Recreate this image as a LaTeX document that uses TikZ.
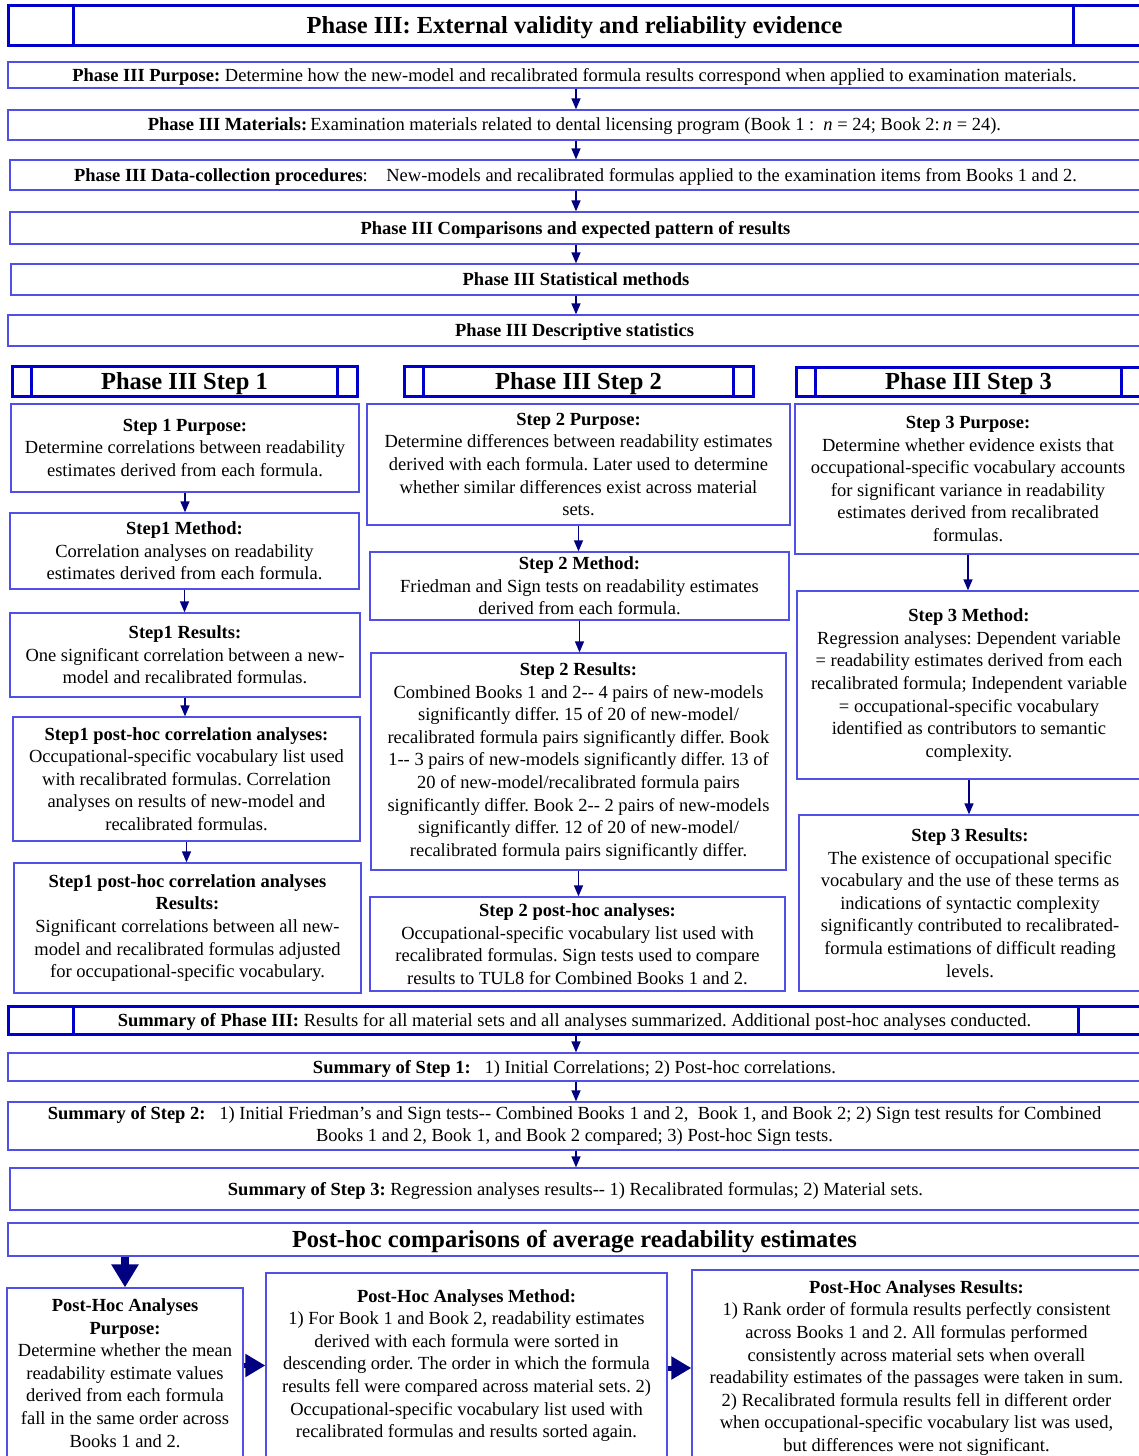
\documentclass[tikz,border=0pt]{standalone}
\usepackage{fontspec}
\setmainfont{Liberation Serif}
\usepackage{tikz}
\usetikzlibrary{arrows.meta,calc}
\definecolor{frameblue}{RGB}{0,0,205}
\definecolor{lineblue}{RGB}{80,80,230}
\definecolor{arrownavy}{RGB}{0,0,128}
\frenchspacing

\begin{document}
\begin{tikzpicture}[x=1pt,y=-1pt,>=Latex,
  txt/.style={font=\fontsize{18.5}{22.6}\selectfont},
  box/.style 2 args={draw=lineblue,line width=1.3pt,align=center,inner sep=2pt,minimum width=#1pt,minimum height=#2pt,txt},
  head/.style 2 args={draw=frameblue,line width=3pt,align=center,inner sep=2pt,minimum width=#1pt,minimum height=#2pt,font=\fontsize{24.5}{28}\selectfont\bfseries,text depth=1pt},
  oneline/.style={text depth=1pt},
  arr/.style={-{Triangle[length=11pt,width=9pt]},color=arrownavy,line width=1.3pt},
  bigarr/.style={-{Triangle[length=23pt,width=26pt]},color=arrownavy,line width=8pt},
  sidearr/.style={-{Triangle[length=20pt,width=22pt]},color=arrownavy,line width=5pt}]
\useasboundingbox (0,0) rectangle (1139,1456);
\coordinate (mid) at (576,0);

\node[head={1133}{40}] (title) at (574.5,25) {Phase III: External validity and reliability evidence};
\node[box={1133}{26},oneline] (purp) at (574.5,75) {\textbf{Phase III Purpose:} Determine how the new-model and recalibrated formula results correspond when applied to examination materials.};
\node[box={1133}{30},oneline] (mat) at (574.5,125) {\textbf{Phase III Materials:}\,Examination materials related to dental licensing program (Book 1 :~ \textit{n} = 24; Book 2:\,\textit{n} = 24).};
\node[box={1131}{30},oneline] (coll) at (575.5,175) {\textbf{Phase III Data-collection procedures}:\quad New-models and recalibrated formulas applied to the examination items from Books 1 and 2.};
\node[box={1131}{32},oneline] (comp) at (575.5,228) {\textbf{Phase III Comparisons and expected pattern of results}};
\node[box={1130}{31},oneline] (stat) at (576,279.5) {\textbf{Phase III Statistical methods}};
\node[box={1133}{31},oneline] (desc) at (574.5,330.5) {\textbf{Phase III Descriptive statistics}};

\node[head={345}{30}] (h1) at (184.5,381) {Phase III Step 1};
\node[head={349}{30}] (h2) at (578.5,381) {Phase III Step 2};
\node[head={345}{29}] (h3) at (968.5,381.5) {Phase III Step 3};

\node[box={348}{88}] (a1) at (185,448) {\textbf{Step 1 Purpose:}\\Determine correlations between readability\\estimates derived from each formula.};
\node[box={349}{76}] (b1) at (184.5,551) {\textbf{Step1 Method:}\\Correlation analyses on readability\\estimates derived from each formula.};
\node[box={350}{84}] (c1) at (185,655) {\textbf{Step1 Results:}\\One significant correlation between a new-\\model and recalibrated formulas.};
\node[box={347}{124}] (d1) at (186.5,779) {\textbf{Step1 post-hoc correlation analyses:}\\Occupational-specific vocabulary list used\\with recalibrated formulas. Correlation\\analyses on results of new-model and\\recalibrated formulas.};
\node[box={347}{130}] (e1) at (187.5,928) {\textbf{Step1 post-hoc correlation analyses}\\\textbf{Results:}\\Significant correlations between all new-\\model and recalibrated formulas adjusted\\for occupational-specific vocabulary.};

\node[box={423}{121}] (a2) at (578.5,464.5) {\textbf{Step 2 Purpose:}\\Determine differences between readability estimates\\derived with each formula. Later used to determine\\whether similar differences exist across material\\sets.};
\node[box={419}{68}] (b2) at (579.5,586) {\textbf{Step 2 Method:}\\Friedman and Sign tests on readability estimates\\derived from each formula.};
\node[box={415}{217}] (c2) at (578.5,761.5) {\textbf{Step 2 Results:}\\Combined Books 1 and 2{-}{-} 4 pairs of new-models\\significantly differ. 15 of 20 of new-model/\\recalibrated formula pairs significantly differ. Book\\1{-}{-} 3 pairs of new-models significantly differ. 13 of\\20 of new-model/recalibrated formula pairs\\significantly differ. Book 2{-}{-} 2 pairs of new-models\\significantly differ. 12 of 20 of new-model/\\recalibrated formula pairs significantly differ.};
\node[box={415}{94}] (d2) at (577.5,944) {\textbf{Step 2 post-hoc analyses:}\\Occupational-specific vocabulary list used with\\recalibrated formulas. Sign tests used to compare\\results to TUL8 for Combined Books 1 and 2.};

\node[box={346}{150}] (a3) at (968,479) {\textbf{Step 3 Purpose:}\\Determine whether evidence exists that\\occupational-specific vocabulary accounts\\for significant variance in readability\\estimates derived from recalibrated\\formulas.};
\node[box={344}{188}] (b3) at (969,685) {\textbf{Step 3 Method:}\\Regression analyses: Dependent variable\\= readability estimates derived from each\\recalibrated formula; Independent variable\\= occupational-specific vocabulary\\identified as contributors to semantic\\complexity.};
\node[box={342}{176}] (c3) at (970,903) {\textbf{Step 3 Results:}\\The existence of occupational specific\\vocabulary and the use of these terms as\\indications of syntactic complexity\\significantly contributed to recalibrated-\\formula estimations of difficult reading\\levels.};

\node[head={1133}{28},txt] (sum) at (574.5,1020) {\textbf{Summary of Phase III:} Results for all material sets and all analyses summarized. Additional post-hoc analyses conducted.};
\node[box={1133}{28},oneline] (s1) at (574.5,1067) {\textbf{Summary of Step 1:}~~ 1) Initial Correlations; 2) Post-hoc correlations.};
\node[box={1133}{48}] (s2) at (574.5,1126) {\textbf{Summary of Step 2:}~~ 1) Initial Friedman's and Sign tests{-}{-} Combined Books 1 and 2,~ Book 1, and Book 2; 2) Sign test results for Combined\\Books 1 and 2, Book 1, and Book 2 compared; 3) Post-hoc Sign tests.};
\node[box={1131}{42},oneline] (s3) at (575.5,1189) {\textbf{Summary of Step 3:} Regression analyses results{-}{-} 1) Recalibrated formulas; 2) Material sets.};
\node[box={1133}{33},oneline,font=\fontsize{24.5}{28}\selectfont\bfseries] (ph) at (574.5,1239.5) {Post-hoc comparisons of average readability estimates};

\node[box={236}{170}] (pa) at (125,1373) {\textbf{Post-Hoc Analyses}\\\textbf{Purpose:}\\Determine whether the mean\\readability estimate values\\derived from each formula\\fall in the same order across\\Books 1 and 2.};
\node[box={401}{185}] (pb) at (466.5,1365.5) {\textbf{Post-Hoc Analyses Method:}\\1) For Book 1 and Book 2, readability estimates\\derived with each formula were sorted in\\descending order. The order in which the formula\\results fell were compared across material sets. 2)\\Occupational-specific vocabulary list used with\\recalibrated formulas and results sorted again.};
\node[box={449}{196}] (pc) at (916.5,1368) {\textbf{Post-Hoc Analyses Results:}\\1) Rank order of formula results perfectly consistent\\across Books 1 and 2. All formulas performed\\consistently across material sets when overall\\readability estimates of the passages were taken in sum.\\2) Recalibrated formula results fell in different order\\when occupational-specific vocabulary list was used,\\but differences were not significant.};

\draw[frameblue,line width=3pt] ([xshift=67pt]title.north west) -- ([xshift=67pt]title.south west)
  ([xshift=-69pt]title.north east) -- ([xshift=-69pt]title.south east)
  ([xshift=67pt]sum.north west) -- ([xshift=67pt]sum.south west)
  ([xshift=-64pt]sum.north east) -- ([xshift=-64pt]sum.south east);
\foreach \h in {h1,h2,h3}{
  \draw[frameblue,line width=3pt] ([xshift=21pt]\h.north west) -- ([xshift=21pt]\h.south west)
    ([xshift=-21pt]\h.north east) -- ([xshift=-21pt]\h.south east);}

\foreach \u/\v in {purp/mat,mat/coll,coll/comp,comp/stat,stat/desc,sum/s1,s1/s2,s2/s3}{
  \draw[arr] (\u.south -| mid) -- (\v.north -| mid);}
\foreach \u/\v in {a1/b1,b1/c1,c1/d1,d1/e1,a2/b2,b2/c2,c2/d2,a3/b3,b3/c3}{
  \draw[arr] (\u.south) -- (\u.south |- \v.north);}
\draw[bigarr] (ph.south -| pa.north) -- (pa.north);
\draw[sidearr] (pb.west -| pa.east) -- (pb.west);
\draw[sidearr] (pc.west -| pb.east) -- (pc.west);
\end{tikzpicture}
\end{document}
